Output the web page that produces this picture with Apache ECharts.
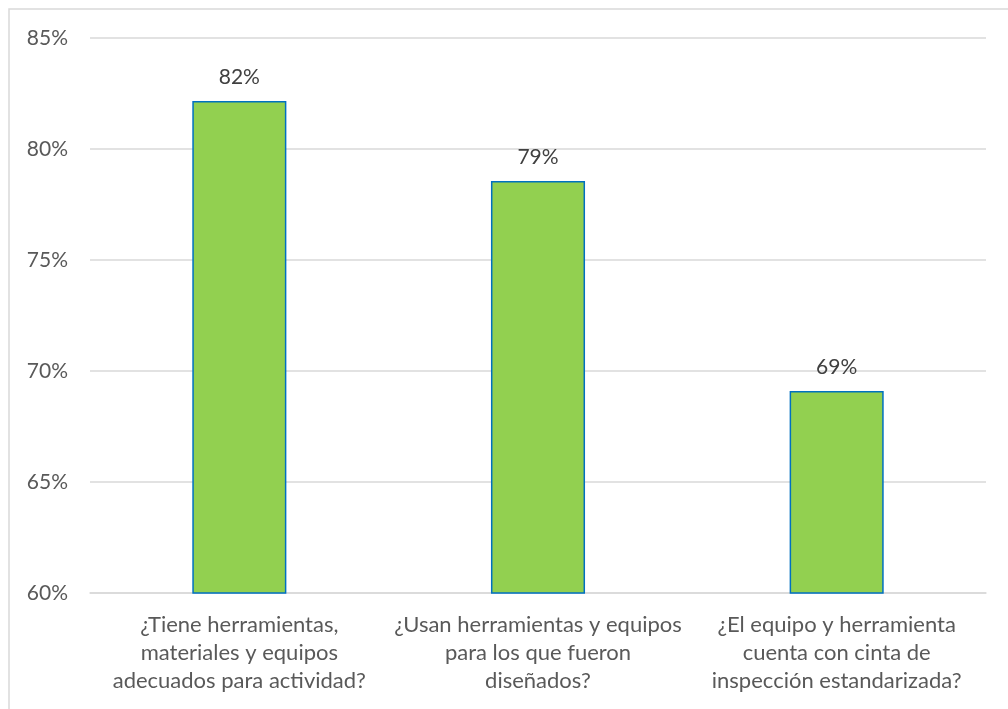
<!DOCTYPE html>
<html><head><meta charset="utf-8">
<script src="https://cdn.jsdelivr.net/npm/echarts@6/dist/echarts.min.js"></script>
<style>html,body{margin:0;padding:0;background:#fff}#c{width:1008px;height:709px}</style>
</head><body><div id="c"></div>
<script>
const categories = [
  "¿Tiene herramientas,\nmateriales y equipos\nadecuados para actividad?",
  "¿Usan herramientas y equipos\npara los que fueron\ndiseñados?",
  "¿El equipo y herramienta\ncuenta con cinta de\ninspección estandarizada?"
];
const values = [0.8216, 0.7856, 0.691];
const labels = ["82%", "79%", "69%"];

const chart = echarts.init(document.getElementById('c'), null, {renderer: 'canvas'});
const font = 'Lato, "Open Sans", sans-serif';
chart.setOption({
  animation: false,
  graphic: [{
    type: 'rect', silent: true, z: -1,
    shape: {x: 9, y: 9, width: 1010, height: 720},
    style: {fill: 'none', stroke: '#d9d9d9', lineWidth: 1.5}
  }],
  grid: {left: 90, right: 22, top: 38, bottom: 116, containLabel: false},
  xAxis: {
    type: 'category', data: categories,
    axisLine: {show: true, lineStyle: {color: '#d9d9d9', width: 1.5}},
    axisTick: {show: false},
    axisLabel: {color: '#595959', fontSize: 22, fontFamily: font, lineHeight: 28, margin: 18, interval: 0}
  },
  yAxis: {
    type: 'value', min: 0.60, max: 0.85, interval: 0.05,
    axisLine: {show: false}, axisTick: {show: false},
    splitLine: {lineStyle: {color: '#d9d9d9', width: 1.5}},
    axisLabel: {color: '#595959', fontSize: 21, fontFamily: font, margin: 22,
      formatter: v => Math.round(v * 100) + '%'}
  },
  series: [{
    type: 'bar', data: values, barWidth: '31.5%',
    itemStyle: {color: '#92D050', borderColor: '#0070C0', borderWidth: 1.5},
    label: {show: true, position: 'top', distance: 13, color: '#404040', fontSize: 21, fontFamily: font,
      formatter: p => labels[p.dataIndex]}
  }]
});
</script></body></html>
